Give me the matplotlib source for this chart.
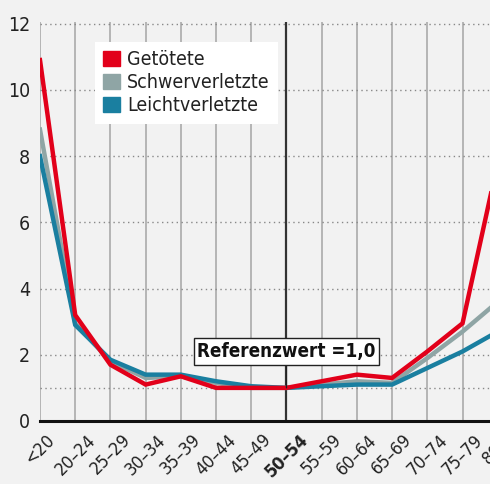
import matplotlib.pyplot as plt
from matplotlib.patches import Patch

# age groups and relative risk (reference group 50-54 = 1.0)
ages = ['<20', '20–24', '25–29', '30–34', '35–39', '40–44', '45–49',
        '50–54', '55–59', '60–64', '65–69', '70–74', '75–79', '80+']
getoetete = [10.9, 3.2, 1.7, 1.1, 1.35, 1.0, 1.0, 1.0, 1.2, 1.4, 1.3, 2.1, 2.95, 7.8]
schwer = [8.8, 2.95, 1.8, 1.3, 1.35, 1.15, 1.0, 1.0, 1.1, 1.2, 1.15, 1.9, 2.7, 3.6]
leicht = [8.0, 2.9, 1.85, 1.4, 1.4, 1.2, 1.05, 1.0, 1.05, 1.1, 1.1, 1.6, 2.1, 2.7]

bg = '#f2f2f2'
red = '#e2001a'
grey = '#8fa5a5'
blue = '#1a7fa0'

plt.rcParams['font.family'] = ['DejaVu Sans']

fig = plt.figure(figsize=(4.9, 4.84), dpi=100, facecolor=bg)
ax = fig.add_axes([40 / 490, 1 - 421 / 484, 450 / 490, 399 / 484])
ax.set_facecolor(bg)

x = list(range(len(ages)))

# grid
for i in x:
    if ages[i] == '50–54':
        ax.axvline(i, color='#333333', lw=1.6, zorder=1)
    else:
        ax.axvline(i, color='#aaaaaa', lw=1.2, zorder=1)
for yv in [1, 2, 4, 6, 8, 10, 12]:
    ax.axhline(yv, color='#888888', lw=1.0, ls=(0, (1, 2.5)), zorder=1)

ax.plot(x, schwer, color=grey, lw=3.2, zorder=3, solid_joinstyle='miter')
ax.plot(x, leicht, color=blue, lw=3.2, zorder=3, solid_joinstyle='miter')
ax.plot(x, getoetete, color=red, lw=3.2, zorder=4, solid_joinstyle='miter')

ax.set_xlim(0, 12.78)
ax.set_ylim(0, 12.05)
ax.set_yticks([0, 2, 4, 6, 8, 10, 12])
ax.tick_params(axis='y', length=0, pad=7, labelsize=14, labelcolor='#222222')
ax.set_xticks([])
for lab in ax.get_yticklabels():
    lab.set_fontstretch('condensed')

for s in ['top', 'right', 'left']:
    ax.spines[s].set_visible(False)
ax.spines['bottom'].set_linewidth(2.2)
ax.spines['bottom'].set_color('#111111')
ax.spines['bottom'].set_zorder(5)

# x tick labels (drawn as text so the cut-off 80+ still shows)
for i, a in enumerate(ages):
    ax.text(i, -0.3, a, rotation=45, ha='center', va='top', fontsize=13,
            fontweight='bold' if a == '50–54' else 'normal',
            fontstretch='condensed', color='#222222', clip_on=False)

# legend
handles = [Patch(color=red, label='Getötete'),
           Patch(color=grey, label='Schwerverletzte'),
           Patch(color=blue, label='Leichtverletzte')]
leg = ax.legend(handles=handles, loc='upper left', bbox_to_anchor=(0.1, 0.975),
                frameon=True, fancybox=False, framealpha=1, edgecolor='white',
                fontsize=14, handlelength=0.85, handleheight=0.85,
                handletextpad=0.35, labelspacing=0.2, borderpad=0.45)
leg.get_frame().set_linewidth(0)
for t in leg.get_texts():
    t.set_fontstretch('condensed')
    t.set_color('#222222')

# reference annotation
ax.annotate('Referenzwert =1,0', xy=(7, 1.0), xytext=(7, 2.1),
            ha='center', va='center', fontsize=13.5, fontweight='bold',
            fontstretch='condensed', color='#111111', zorder=6,
            bbox=dict(boxstyle='square,pad=0.2', fc='white', ec='#222222', lw=1),
            arrowprops=dict(arrowstyle='-', color='#222222', lw=0.9,
                            shrinkA=0, shrinkB=0))

fig.savefig('out.png', dpi=100, facecolor=bg)
